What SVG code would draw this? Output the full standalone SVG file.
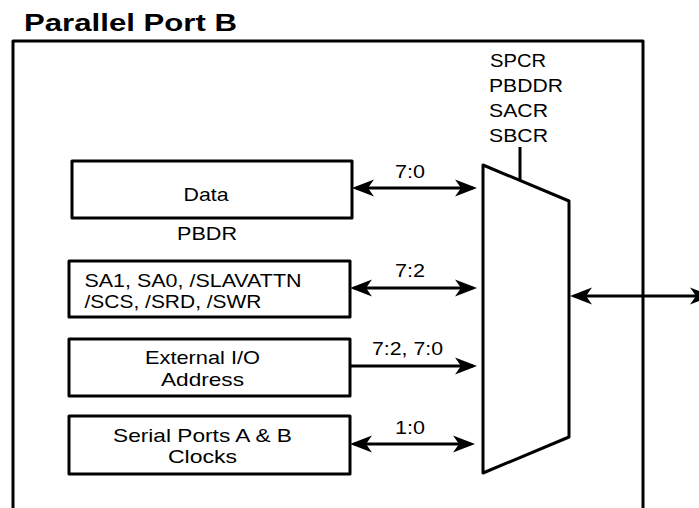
<svg xmlns="http://www.w3.org/2000/svg" width="699" height="508" viewBox="0 0 699 508">
<style>
.ln{fill:none;stroke:#000;stroke-width:3;stroke-linejoin:round}
.bx{fill:#fff;stroke:#000;stroke-width:3;stroke-linejoin:round}
.t{font-family:"Liberation Sans",Arial,sans-serif;font-size:18.5px;fill:#000}
.title{font-family:"Liberation Sans",Arial,sans-serif;font-size:24px;font-weight:bold;fill:#000}
</style>
<defs>
<marker id="ah" viewBox="-22 -10 27 20" refX="0" refY="0" markerWidth="27" markerHeight="20" markerUnits="userSpaceOnUse" orient="auto-start-reverse">
<path d="M4,0 L-18,-8.5 L-12,0 L-18,8.5 Z" fill="#000"/>
</marker>
</defs>
<rect width="699" height="508" fill="#fff"/>
<text class="title" x="24" y="31" textLength="213" lengthAdjust="spacingAndGlyphs">Parallel Port B</text>
<path id="frame" class="ln" d="M13,508 L13,41 L643,41 L643,508"/>

<g id="data">
<rect class="bx" x="72" y="161" width="280" height="57"/>
<text class="t" x="183.5" y="200.5" textLength="45" lengthAdjust="spacingAndGlyphs">Data</text>
<text class="t" x="177" y="240" textLength="60" lengthAdjust="spacingAndGlyphs">PBDR</text>
</g>
<g id="slave">
<rect class="bx" x="69" y="261" width="281" height="56"/>
<text class="t" x="84.5" y="286.5" textLength="217" lengthAdjust="spacingAndGlyphs">SA1, SA0, /SLAVATTN</text>
<text class="t" x="84.5" y="308" textLength="177" lengthAdjust="spacingAndGlyphs">/SCS, /SRD, /SWR</text>
</g>
<g id="extio">
<rect class="bx" x="69" y="339" width="281" height="57"/>
<text class="t" x="145" y="364" textLength="115" lengthAdjust="spacingAndGlyphs">External I/O</text>
<text class="t" x="161" y="386" textLength="83" lengthAdjust="spacingAndGlyphs">Address</text>
</g>
<g id="serial">
<rect class="bx" x="69" y="416" width="281" height="58"/>
<text class="t" x="113" y="441.5" textLength="179" lengthAdjust="spacingAndGlyphs">Serial Ports A &amp; B</text>
<text class="t" x="168" y="463" textLength="69" lengthAdjust="spacingAndGlyphs">Clocks</text>
</g>
<g id="mux">
<polygon class="bx" points="483,165 569,201 569,437 483,473"/>
<text class="t" x="490" y="67" textLength="56" lengthAdjust="spacingAndGlyphs">SPCR</text>
<text class="t" x="489" y="92" textLength="74" lengthAdjust="spacingAndGlyphs">PBDDR</text>
<text class="t" x="489" y="116.5" textLength="59" lengthAdjust="spacingAndGlyphs">SACR</text>
<text class="t" x="489" y="141.5" textLength="59" lengthAdjust="spacingAndGlyphs">SBCR</text>
</g>
<g id="connectors">
<path class="ln" d="M520,147 L520,181"/>
<path class="ln" d="M356,188 L473,188" marker-start="url(#ah)" marker-end="url(#ah)"/>
<path class="ln" d="M354,288 L473,288" marker-start="url(#ah)" marker-end="url(#ah)"/>
<path class="ln" d="M351,366 L473,366" marker-end="url(#ah)"/>
<path class="ln" d="M354,444 L471,444" marker-start="url(#ah)" marker-end="url(#ah)"/>
<path class="ln" d="M574,296 L708,296" marker-start="url(#ah)" marker-end="url(#ah)"/>
<text class="t" x="395" y="178" textLength="30" lengthAdjust="spacingAndGlyphs">7:0</text>
<text class="t" x="395" y="277" textLength="30" lengthAdjust="spacingAndGlyphs">7:2</text>
<text class="t" x="372" y="355" textLength="71" lengthAdjust="spacingAndGlyphs">7:2, 7:0</text>
<text class="t" x="395" y="434" textLength="30" lengthAdjust="spacingAndGlyphs">1:0</text>
</g>
</svg>
